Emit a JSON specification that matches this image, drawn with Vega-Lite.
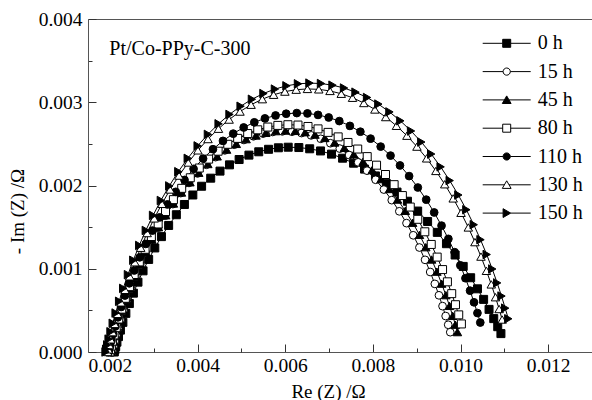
{
  "$schema": "https://vega.github.io/schema/vega-lite/v6.json",
  "width": 504,
  "height": 333,
  "autosize": {"type": "none"},
  "padding": {"left": 88, "top": 19, "right": 0, "bottom": 48},
  "background": "white",
  "config": {"view": {"stroke": null}, "font": "Liberation Serif"},
  "data": {"values": [
    {"t":"0 h","re":0.0021,"im":0},{"t":"0 h","re":0.002112,"im":0.0000248},{"t":"0 h","re":0.002132,"im":0.0000645},{"t":"0 h","re":0.00216,"im":0.000118},{"t":"0 h","re":0.002196,"im":0.000185},{"t":"0 h","re":0.00224,"im":0.000263},{"t":"0 h","re":0.002296,"im":0.000356},{"t":"0 h","re":0.002364,"im":0.000464},{"t":"0 h","re":0.002444,"im":0.000582},{"t":"0 h","re":0.002536,"im":0.000707},{"t":"0 h","re":0.00264,"im":0.000839},{"t":"0 h","re":0.002756,"im":0.000975},{"t":"0 h","re":0.002884,"im":0.001112},{"t":"0 h","re":0.003024,"im":0.00125},{"t":"0 h","re":0.003176,"im":0.001386},{"t":"0 h","re":0.00334,"im":0.00152},{"t":"0 h","re":0.003516,"im":0.001649},{"t":"0 h","re":0.0037,"im":0.001772},{"t":"0 h","re":0.003892,"im":0.001886},{"t":"0 h","re":0.004092,"im":0.001991},{"t":"0 h","re":0.0043,"im":0.002088},{"t":"0 h","re":0.004512,"im":0.002173},{"t":"0 h","re":0.004728,"im":0.002248},{"t":"0 h","re":0.004948,"im":0.002312},{"t":"0 h","re":0.005172,"im":0.002365},{"t":"0 h","re":0.005396,"im":0.002405},{"t":"0 h","re":0.00562,"im":0.002435},{"t":"0 h","re":0.005844,"im":0.002453},{"t":"0 h","re":0.006068,"im":0.00246},{"t":"0 h","re":0.006311,"im":0.002456},{"t":"0 h","re":0.006558,"im":0.002441},{"t":"0 h","re":0.006806,"im":0.002415},{"t":"0 h","re":0.007056,"im":0.002377},{"t":"0 h","re":0.007309,"im":0.002328},{"t":"0 h","re":0.00756,"im":0.002268},{"t":"0 h","re":0.00781,"im":0.002197},{"t":"0 h","re":0.008059,"im":0.002115},{"t":"0 h","re":0.008307,"im":0.002022},{"t":"0 h","re":0.008551,"im":0.001921},{"t":"0 h","re":0.008789,"im":0.001811},{"t":"0 h","re":0.009022,"im":0.001693},{"t":"0 h","re":0.009249,"im":0.001568},{"t":"0 h","re":0.00947,"im":0.001437},{"t":"0 h","re":0.009679,"im":0.001301},{"t":"0 h","re":0.009877,"im":0.001165},{"t":"0 h","re":0.010061,"im":0.001028},{"t":"0 h","re":0.010231,"im":0.000892},{"t":"0 h","re":0.010387,"im":0.000759},{"t":"0 h","re":0.010527,"im":0.000632},{"t":"0 h","re":0.010651,"im":0.000512},{"t":"0 h","re":0.010758,"im":0.000401},{"t":"0 h","re":0.010849,"im":0.000304},{"t":"0 h","re":0.010922,"im":0.000221},
    {"t":"15 h","re":0.00205,"im":0},{"t":"15 h","re":0.002062,"im":0.0000268},{"t":"15 h","re":0.002081,"im":0.0000694},{"t":"15 h","re":0.002109,"im":0.000127},{"t":"15 h","re":0.002144,"im":0.000199},{"t":"15 h","re":0.002187,"im":0.000283},{"t":"15 h","re":0.002242,"im":0.000384},{"t":"15 h","re":0.002308,"im":0.0005},{"t":"15 h","re":0.002387,"im":0.000626},{"t":"15 h","re":0.002477,"im":0.000762},{"t":"15 h","re":0.002579,"im":0.000904},{"t":"15 h","re":0.002692,"im":0.00105},{"t":"15 h","re":0.002817,"im":0.001198},{"t":"15 h","re":0.002954,"im":0.001346},{"t":"15 h","re":0.003103,"im":0.001493},{"t":"15 h","re":0.003264,"im":0.001637},{"t":"15 h","re":0.003436,"im":0.001777},{"t":"15 h","re":0.003616,"im":0.001909},{"t":"15 h","re":0.003804,"im":0.002031},{"t":"15 h","re":0.004,"im":0.002145},{"t":"15 h","re":0.004203,"im":0.002249},{"t":"15 h","re":0.004411,"im":0.002341},{"t":"15 h","re":0.004622,"im":0.002422},{"t":"15 h","re":0.004837,"im":0.00249},{"t":"15 h","re":0.005057,"im":0.002547},{"t":"15 h","re":0.005276,"im":0.002591},{"t":"15 h","re":0.005495,"im":0.002623},{"t":"15 h","re":0.005714,"im":0.002643},{"t":"15 h","re":0.005934,"im":0.00265},{"t":"15 h","re":0.006153,"im":0.002646},{"t":"15 h","re":0.006372,"im":0.00263},{"t":"15 h","re":0.006591,"im":0.002602},{"t":"15 h","re":0.006811,"im":0.002561},{"t":"15 h","re":0.00703,"im":0.002508},{"t":"15 h","re":0.007245,"im":0.002443},{"t":"15 h","re":0.007457,"im":0.002366},{"t":"15 h","re":0.007664,"im":0.002278},{"t":"15 h","re":0.007868,"im":0.002178},{"t":"15 h","re":0.008063,"im":0.002069},{"t":"15 h","re":0.008251,"im":0.001951},{"t":"15 h","re":0.008431,"im":0.001824},{"t":"15 h","re":0.008604,"im":0.00169},{"t":"15 h","re":0.008768,"im":0.001548},{"t":"15 h","re":0.008921,"im":0.001402},{"t":"15 h","re":0.009062,"im":0.001255},{"t":"15 h","re":0.009191,"im":0.001107},{"t":"15 h","re":0.009308,"im":0.000961},{"t":"15 h","re":0.009414,"im":0.000818},{"t":"15 h","re":0.009508,"im":0.000681},{"t":"15 h","re":0.00959,"im":0.000551},{"t":"15 h","re":0.009661,"im":0.000432},{"t":"15 h","re":0.009719,"im":0.000327},{"t":"15 h","re":0.009766,"im":0.000238},
    {"t":"45 h","re":0.00203,"im":0},{"t":"45 h","re":0.002042,"im":0.0000269},{"t":"45 h","re":0.002062,"im":0.0000697},{"t":"45 h","re":0.00209,"im":0.000128},{"t":"45 h","re":0.002126,"im":0.0002},{"t":"45 h","re":0.00217,"im":0.000284},{"t":"45 h","re":0.002226,"im":0.000385},{"t":"45 h","re":0.002295,"im":0.000501},{"t":"45 h","re":0.002375,"im":0.000629},{"t":"45 h","re":0.002467,"im":0.000765},{"t":"45 h","re":0.002571,"im":0.000907},{"t":"45 h","re":0.002687,"im":0.001054},{"t":"45 h","re":0.002816,"im":0.001203},{"t":"45 h","re":0.002956,"im":0.001351},{"t":"45 h","re":0.003108,"im":0.001499},{"t":"45 h","re":0.003272,"im":0.001643},{"t":"45 h","re":0.003449,"im":0.001784},{"t":"45 h","re":0.003633,"im":0.001916},{"t":"45 h","re":0.003826,"im":0.002039},{"t":"45 h","re":0.004026,"im":0.002153},{"t":"45 h","re":0.004234,"im":0.002258},{"t":"45 h","re":0.004447,"im":0.00235},{"t":"45 h","re":0.004663,"im":0.002431},{"t":"45 h","re":0.004884,"im":0.0025},{"t":"45 h","re":0.005108,"im":0.002557},{"t":"45 h","re":0.005333,"im":0.002601},{"t":"45 h","re":0.005557,"im":0.002633},{"t":"45 h","re":0.005781,"im":0.002653},{"t":"45 h","re":0.006006,"im":0.00266},{"t":"45 h","re":0.00623,"im":0.002656},{"t":"45 h","re":0.006455,"im":0.00264},{"t":"45 h","re":0.006679,"im":0.002611},{"t":"45 h","re":0.006904,"im":0.002571},{"t":"45 h","re":0.007128,"im":0.002517},{"t":"45 h","re":0.007349,"im":0.002452},{"t":"45 h","re":0.007565,"im":0.002375},{"t":"45 h","re":0.007777,"im":0.002287},{"t":"45 h","re":0.007986,"im":0.002187},{"t":"45 h","re":0.008186,"im":0.002077},{"t":"45 h","re":0.008379,"im":0.001958},{"t":"45 h","re":0.008563,"im":0.001831},{"t":"45 h","re":0.008739,"im":0.001696},{"t":"45 h","re":0.008908,"im":0.001553},{"t":"45 h","re":0.009064,"im":0.001407},{"t":"45 h","re":0.009208,"im":0.001259},{"t":"45 h","re":0.009341,"im":0.001111},{"t":"45 h","re":0.009461,"im":0.000965},{"t":"45 h","re":0.009569,"im":0.000821},{"t":"45 h","re":0.009665,"im":0.000683},{"t":"45 h","re":0.009749,"im":0.000554},{"t":"45 h","re":0.009822,"im":0.000434},{"t":"45 h","re":0.009882,"im":0.000328},{"t":"45 h","re":0.00993,"im":0.000239},
    {"t":"80 h","re":0.002,"im":0},{"t":"80 h","re":0.002012,"im":0.0000276},{"t":"80 h","re":0.002033,"im":0.0000715},{"t":"80 h","re":0.002061,"im":0.000131},{"t":"80 h","re":0.002098,"im":0.000205},{"t":"80 h","re":0.002143,"im":0.000292},{"t":"80 h","re":0.002201,"im":0.000396},{"t":"80 h","re":0.00227,"im":0.000515},{"t":"80 h","re":0.002352,"im":0.000645},{"t":"80 h","re":0.002446,"im":0.000785},{"t":"80 h","re":0.002553,"im":0.000931},{"t":"80 h","re":0.002671,"im":0.001082},{"t":"80 h","re":0.002802,"im":0.001234},{"t":"80 h","re":0.002946,"im":0.001387},{"t":"80 h","re":0.003101,"im":0.001538},{"t":"80 h","re":0.003269,"im":0.001687},{"t":"80 h","re":0.003449,"im":0.00183},{"t":"80 h","re":0.003638,"im":0.001966},{"t":"80 h","re":0.003834,"im":0.002093},{"t":"80 h","re":0.004039,"im":0.00221},{"t":"80 h","re":0.004252,"im":0.002317},{"t":"80 h","re":0.004469,"im":0.002412},{"t":"80 h","re":0.00469,"im":0.002495},{"t":"80 h","re":0.004915,"im":0.002566},{"t":"80 h","re":0.005144,"im":0.002624},{"t":"80 h","re":0.005373,"im":0.002669},{"t":"80 h","re":0.005603,"im":0.002702},{"t":"80 h","re":0.005832,"im":0.002722},{"t":"80 h","re":0.006061,"im":0.00273},{"t":"80 h","re":0.006291,"im":0.002726},{"t":"80 h","re":0.00652,"im":0.002709},{"t":"80 h","re":0.006749,"im":0.00268},{"t":"80 h","re":0.006978,"im":0.002638},{"t":"80 h","re":0.007208,"im":0.002584},{"t":"80 h","re":0.007433,"im":0.002517},{"t":"80 h","re":0.007654,"im":0.002438},{"t":"80 h","re":0.007871,"im":0.002347},{"t":"80 h","re":0.008084,"im":0.002244},{"t":"80 h","re":0.008288,"im":0.002132},{"t":"80 h","re":0.008485,"im":0.00201},{"t":"80 h","re":0.008673,"im":0.001879},{"t":"80 h","re":0.008853,"im":0.001741},{"t":"80 h","re":0.009025,"im":0.001594},{"t":"80 h","re":0.009185,"im":0.001444},{"t":"80 h","re":0.009332,"im":0.001292},{"t":"80 h","re":0.009467,"im":0.00114},{"t":"80 h","re":0.00959,"im":0.00099},{"t":"80 h","re":0.009701,"im":0.000843},{"t":"80 h","re":0.009799,"im":0.000701},{"t":"80 h","re":0.009885,"im":0.000568},{"t":"80 h","re":0.009959,"im":0.000446},{"t":"80 h","re":0.01002,"im":0.000337},
    {"t":"110 h","re":0.00197,"im":0},{"t":"110 h","re":0.001983,"im":0.000029},{"t":"110 h","re":0.002005,"im":0.0000752},{"t":"110 h","re":0.002035,"im":0.000138},{"t":"110 h","re":0.002074,"im":0.000216},{"t":"110 h","re":0.002122,"im":0.000307},{"t":"110 h","re":0.002182,"im":0.000416},{"t":"110 h","re":0.002256,"im":0.000541},{"t":"110 h","re":0.002342,"im":0.000678},{"t":"110 h","re":0.002442,"im":0.000825},{"t":"110 h","re":0.002554,"im":0.000979},{"t":"110 h","re":0.00268,"im":0.001137},{"t":"110 h","re":0.002818,"im":0.001298},{"t":"110 h","re":0.00297,"im":0.001458},{"t":"110 h","re":0.003135,"im":0.001617},{"t":"110 h","re":0.003312,"im":0.001773},{"t":"110 h","re":0.003502,"im":0.001924},{"t":"110 h","re":0.003702,"im":0.002067},{"t":"110 h","re":0.003909,"im":0.0022},{"t":"110 h","re":0.004126,"im":0.002323},{"t":"110 h","re":0.004351,"im":0.002436},{"t":"110 h","re":0.00458,"im":0.002536},{"t":"110 h","re":0.004814,"im":0.002623},{"t":"110 h","re":0.005052,"im":0.002697},{"t":"110 h","re":0.005295,"im":0.002759},{"t":"110 h","re":0.005537,"im":0.002806},{"t":"110 h","re":0.00578,"im":0.002841},{"t":"110 h","re":0.006022,"im":0.002862},{"t":"110 h","re":0.006264,"im":0.00287},{"t":"110 h","re":0.006507,"im":0.002866},{"t":"110 h","re":0.006749,"im":0.002848},{"t":"110 h","re":0.006992,"im":0.002817},{"t":"110 h","re":0.007234,"im":0.002774},{"t":"110 h","re":0.007476,"im":0.002716},{"t":"110 h","re":0.007715,"im":0.002646},{"t":"110 h","re":0.007948,"im":0.002563},{"t":"110 h","re":0.008178,"im":0.002467},{"t":"110 h","re":0.008403,"im":0.002359},{"t":"110 h","re":0.008619,"im":0.002241},{"t":"110 h","re":0.008827,"im":0.002113},{"t":"110 h","re":0.009026,"im":0.001976},{"t":"110 h","re":0.009217,"im":0.00183},{"t":"110 h","re":0.009399,"im":0.001676},{"t":"110 h","re":0.009567,"im":0.001518},{"t":"110 h","re":0.009723,"im":0.001359},{"t":"110 h","re":0.009866,"im":0.001199},{"t":"110 h","re":0.009996,"im":0.001041},{"t":"110 h","re":0.010113,"im":0.000886},{"t":"110 h","re":0.010217,"im":0.000737},{"t":"110 h","re":0.010308,"im":0.000597},{"t":"110 h","re":0.010386,"im":0.000468},{"t":"110 h","re":0.010451,"im":0.000354},
    {"t":"130 h","re":0.00195,"im":0},{"t":"130 h","re":0.001964,"im":0.0000319},{"t":"130 h","re":0.001987,"im":0.0000828},{"t":"130 h","re":0.002019,"im":0.000152},{"t":"130 h","re":0.00206,"im":0.000238},{"t":"130 h","re":0.002111,"im":0.000337},{"t":"130 h","re":0.002175,"im":0.000458},{"t":"130 h","re":0.002253,"im":0.000596},{"t":"130 h","re":0.002345,"im":0.000747},{"t":"130 h","re":0.002451,"im":0.000909},{"t":"130 h","re":0.00257,"im":0.001078},{"t":"130 h","re":0.002703,"im":0.001252},{"t":"130 h","re":0.00285,"im":0.001429},{"t":"130 h","re":0.003011,"im":0.001605},{"t":"130 h","re":0.003186,"im":0.00178},{"t":"130 h","re":0.003374,"im":0.001952},{"t":"130 h","re":0.003576,"im":0.002119},{"t":"130 h","re":0.003788,"im":0.002276},{"t":"130 h","re":0.004008,"im":0.002422},{"t":"130 h","re":0.004238,"im":0.002558},{"t":"130 h","re":0.004477,"im":0.002682},{"t":"130 h","re":0.00472,"im":0.002792},{"t":"130 h","re":0.004968,"im":0.002888},{"t":"130 h","re":0.005221,"im":0.00297},{"t":"130 h","re":0.005478,"im":0.003037},{"t":"130 h","re":0.005735,"im":0.00309},{"t":"130 h","re":0.005993,"im":0.003128},{"t":"130 h","re":0.00625,"im":0.003151},{"t":"130 h","re":0.006507,"im":0.00316},{"t":"130 h","re":0.006765,"im":0.003155},{"t":"130 h","re":0.007022,"im":0.003136},{"t":"130 h","re":0.007279,"im":0.003102},{"t":"130 h","re":0.007536,"im":0.003054},{"t":"130 h","re":0.007794,"im":0.002991},{"t":"130 h","re":0.008046,"im":0.002913},{"t":"130 h","re":0.008294,"im":0.002822},{"t":"130 h","re":0.008538,"im":0.002717},{"t":"130 h","re":0.008777,"im":0.002598},{"t":"130 h","re":0.009006,"im":0.002467},{"t":"130 h","re":0.009227,"im":0.002326},{"t":"130 h","re":0.009438,"im":0.002175},{"t":"130 h","re":0.00964,"im":0.002015},{"t":"130 h","re":0.009833,"im":0.001845},{"t":"130 h","re":0.010012,"im":0.001672},{"t":"130 h","re":0.010178,"im":0.001496},{"t":"130 h","re":0.010329,"im":0.00132},{"t":"130 h","re":0.010467,"im":0.001146},{"t":"130 h","re":0.010591,"im":0.000975},{"t":"130 h","re":0.010702,"im":0.000812},{"t":"130 h","re":0.010798,"im":0.000658},{"t":"130 h","re":0.010881,"im":0.000516},{"t":"130 h","re":0.01095,"im":0.00039},
    {"t":"150 h","re":0.0019,"im":0},{"t":"150 h","re":0.001914,"im":0.0000326},{"t":"150 h","re":0.001938,"im":0.0000846},{"t":"150 h","re":0.00197,"im":0.000155},{"t":"150 h","re":0.002013,"im":0.000243},{"t":"150 h","re":0.002064,"im":0.000345},{"t":"150 h","re":0.00213,"im":0.000468},{"t":"150 h","re":0.00221,"im":0.000609},{"t":"150 h","re":0.002303,"im":0.000764},{"t":"150 h","re":0.002411,"im":0.000929},{"t":"150 h","re":0.002533,"im":0.001102},{"t":"150 h","re":0.002669,"im":0.00128},{"t":"150 h","re":0.002819,"im":0.00146},{"t":"150 h","re":0.002984,"im":0.001641},{"t":"150 h","re":0.003162,"im":0.00182},{"t":"150 h","re":0.003354,"im":0.001995},{"t":"150 h","re":0.003561,"im":0.002166},{"t":"150 h","re":0.003776,"im":0.002326},{"t":"150 h","re":0.004002,"im":0.002476},{"t":"150 h","re":0.004236,"im":0.002614},{"t":"150 h","re":0.00448,"im":0.002741},{"t":"150 h","re":0.004729,"im":0.002854},{"t":"150 h","re":0.004982,"im":0.002952},{"t":"150 h","re":0.00524,"im":0.003036},{"t":"150 h","re":0.005503,"im":0.003105},{"t":"150 h","re":0.005765,"im":0.003158},{"t":"150 h","re":0.006028,"im":0.003197},{"t":"150 h","re":0.006291,"im":0.003221},{"t":"150 h","re":0.006553,"im":0.00323},{"t":"150 h","re":0.006816,"im":0.003225},{"t":"150 h","re":0.007079,"im":0.003205},{"t":"150 h","re":0.007342,"im":0.003171},{"t":"150 h","re":0.007604,"im":0.003121},{"t":"150 h","re":0.007867,"im":0.003057},{"t":"150 h","re":0.008125,"im":0.002978},{"t":"150 h","re":0.008378,"im":0.002884},{"t":"150 h","re":0.008627,"im":0.002777},{"t":"150 h","re":0.008871,"im":0.002655},{"t":"150 h","re":0.009105,"im":0.002522},{"t":"150 h","re":0.009331,"im":0.002378},{"t":"150 h","re":0.009546,"im":0.002224},{"t":"150 h","re":0.009753,"im":0.002059},{"t":"150 h","re":0.00995,"im":0.001886},{"t":"150 h","re":0.010133,"im":0.001709},{"t":"150 h","re":0.010302,"im":0.001529},{"t":"150 h","re":0.010456,"im":0.001349},{"t":"150 h","re":0.010597,"im":0.001171},{"t":"150 h","re":0.010724,"im":0.000997},{"t":"150 h","re":0.010836,"im":0.00083},{"t":"150 h","re":0.010935,"im":0.000672},{"t":"150 h","re":0.011019,"im":0.000527},{"t":"150 h","re":0.01109,"im":0.000399}
  ]},
  "layer": [
    {
      "mark": {"type": "line", "color": "black", "strokeWidth": 1},
      "encoding": {
        "x": {"field": "re", "type": "quantitative", "scale": {"domain": [0.0015, 0.013], "nice": false, "zero": false},
              "axis": {"orient": "top", "ticks": false, "labels": false, "title": null, "domain": true, "domainColor": "#555", "domainWidth": 1, "grid": false}},
        "y": {"field": "im", "type": "quantitative", "scale": {"domain": [0, 0.004], "nice": false, "zero": false},
              "axis": {"orient": "left", "values": [0.0005, 0.0015, 0.0025, 0.0035], "tickSize": -4, "tickColor": "#333", "labels": false, "domain": false, "title": null, "grid": false}},
        "detail": {"field": "t", "type": "nominal"}
      }
    },
    {
      "transform": [{"filter": "datum.t == '0 h'"}],
      "mark": {"type": "point", "shape": "square", "filled": true, "fill": "black", "stroke": "black", "strokeWidth": 1, "size": 64, "opacity": 1},
      "encoding": {
        "x": {"field": "re", "type": "quantitative", "scale": {"domain": [0.0015, 0.013], "nice": false, "zero": false},
              "axis": {"orient": "bottom", "values": [0.002, 0.004, 0.006, 0.008, 0.01, 0.012], "format": ".3f", "tickSize": -8, "tickColor": "#333", "domainColor": "#555", "grid": false,
                       "labelPadding": 12, "labelFont": "Liberation Serif", "labelFontSize": 19.5, "labelColor": "black", "labelFlush": false, "labelOverlap": false,
                       "title": "Re (Z) /Ω", "titleFont": "Liberation Serif", "titleFontSize": 19, "titleFontWeight": "normal", "titleColor": "black", "titleX": 240, "titleY": 45, "titleBaseline": "alphabetic", "titleAlign": "center"}},
        "y": {"field": "im", "type": "quantitative", "scale": {"domain": [0, 0.004], "nice": false, "zero": false},
              "axis": {"orient": "left", "values": [0, 0.001, 0.002, 0.003, 0.004], "format": ".3f", "tickSize": -8, "tickColor": "#333", "domainColor": "#555", "grid": false,
                       "labelPadding": 14, "labelFont": "Liberation Serif", "labelFontSize": 19.5, "labelColor": "black", "labelFlush": false, "labelOverlap": false,
                       "title": "- Im (Z) /Ω", "titleFont": "Liberation Serif", "titleFontSize": 19, "titleFontWeight": "normal", "titleColor": "black", "titleX": -65, "titleY": 192, "titleAngle": -90, "titleBaseline": "alphabetic", "titleAlign": "center"}}
      }
    },
    {
      "transform": [{"filter": "datum.t == '15 h'"}],
      "mark": {"type": "point", "shape": "circle", "filled": true, "fill": "white", "stroke": "black", "strokeWidth": 1, "size": 60, "opacity": 1},
      "encoding": {
        "x": {"field": "re", "type": "quantitative", "scale": {"domain": [0.0015, 0.013], "nice": false, "zero": false}, "axis": null},
        "y": {"field": "im", "type": "quantitative", "scale": {"domain": [0, 0.004], "nice": false, "zero": false}, "axis": null}
      }
    },
    {
      "transform": [{"filter": "datum.t == '45 h'"}],
      "mark": {"type": "point", "shape": "triangle-up", "filled": true, "fill": "black", "stroke": "black", "strokeWidth": 1, "size": 72, "opacity": 1},
      "encoding": {
        "x": {"field": "re", "type": "quantitative", "scale": {"domain": [0.0015, 0.013], "nice": false, "zero": false}, "axis": null},
        "y": {"field": "im", "type": "quantitative", "scale": {"domain": [0, 0.004], "nice": false, "zero": false}, "axis": null}
      }
    },
    {
      "transform": [{"filter": "datum.t == '80 h'"}],
      "mark": {"type": "point", "shape": "square", "filled": true, "fill": "white", "stroke": "black", "strokeWidth": 1, "size": 64, "opacity": 1},
      "encoding": {
        "x": {"field": "re", "type": "quantitative", "scale": {"domain": [0.0015, 0.013], "nice": false, "zero": false}, "axis": null},
        "y": {"field": "im", "type": "quantitative", "scale": {"domain": [0, 0.004], "nice": false, "zero": false}, "axis": null}
      }
    },
    {
      "transform": [{"filter": "datum.t == '110 h'"}],
      "mark": {"type": "point", "shape": "circle", "filled": true, "fill": "black", "stroke": "black", "strokeWidth": 1, "size": 60, "opacity": 1},
      "encoding": {
        "x": {"field": "re", "type": "quantitative", "scale": {"domain": [0.0015, 0.013], "nice": false, "zero": false}, "axis": null},
        "y": {"field": "im", "type": "quantitative", "scale": {"domain": [0, 0.004], "nice": false, "zero": false}, "axis": null}
      }
    },
    {
      "transform": [{"filter": "datum.t == '130 h'"}],
      "mark": {"type": "point", "shape": "triangle-up", "filled": true, "fill": "white", "stroke": "black", "strokeWidth": 1, "size": 72, "opacity": 1},
      "encoding": {
        "x": {"field": "re", "type": "quantitative", "scale": {"domain": [0.0015, 0.013], "nice": false, "zero": false}, "axis": null},
        "y": {"field": "im", "type": "quantitative", "scale": {"domain": [0, 0.004], "nice": false, "zero": false}, "axis": null}
      }
    },
    {
      "transform": [{"filter": "datum.t == '150 h'"}],
      "mark": {"type": "point", "shape": "triangle-right", "filled": true, "fill": "black", "stroke": "black", "strokeWidth": 1, "size": 72, "opacity": 1},
      "encoding": {
        "x": {"field": "re", "type": "quantitative", "scale": {"domain": [0.0015, 0.013], "nice": false, "zero": false}, "axis": null},
        "y": {"field": "im", "type": "quantitative", "scale": {"domain": [0, 0.004], "nice": false, "zero": false}, "axis": null}
      }
    },
    {
      "data": {"values": [{"label": "Pt/Co-PPy-C-300"}]},
      "mark": {"type": "text", "align": "left", "baseline": "middle", "font": "Liberation Serif", "fontSize": 20, "color": "black"},
      "encoding": {
        "x": {"datum": 0.001986, "type": "quantitative", "scale": {"domain": [0.0015, 0.013], "nice": false, "zero": false}, "axis": null},
        "y": {"datum": 0.00364, "type": "quantitative", "scale": {"domain": [0, 0.004], "nice": false, "zero": false}, "axis": null},
        "text": {"field": "label", "type": "nominal"}
      }
    },
    {
      "transform": [{"filter": "false"}],
      "mark": {"type": "point", "filled": true, "stroke": "black", "strokeWidth": 1, "size": 64},
      "encoding": {
        "x": {"field": "re", "type": "quantitative", "scale": {"domain": [0.0015, 0.013], "nice": false, "zero": false},
              "axis": {"orient": "bottom", "values": [0.003, 0.005, 0.007, 0.009, 0.011], "tickSize": -4, "tickColor": "#333", "labels": false, "domain": false, "title": null, "grid": false}},
        "y": {"field": "im", "type": "quantitative", "scale": {"domain": [0, 0.004], "nice": false, "zero": false}, "axis": null},
        "shape": {"field": "t", "type": "nominal",
                  "scale": {"domain": ["0 h", "15 h", "45 h", "80 h", "110 h", "130 h", "150 h"],
                            "range": ["M-6,0L-1,0M1,0L6,0M-1,-1L1,-1L1,1L-1,1Z",
                                      "M-6,0L-0.9,0M0.9,0L6,0M-0.9,0C-0.9,-0.5,-0.5,-0.9,0,-0.9C0.5,-0.9,0.9,-0.5,0.9,0C0.9,0.5,0.5,0.9,0,0.9C-0.5,0.9,-0.9,0.5,-0.9,0Z",
                                      "M-6,0L-0.58,0M0.58,0L6,0M-1.1,0.9L0,-1L1.1,0.9Z",
                                      "M-6,0L-1,0M1,0L6,0M-1,-1L1,-1L1,1L-1,1Z",
                                      "M-6,0L-0.9,0M0.9,0L6,0M-0.9,0C-0.9,-0.5,-0.5,-0.9,0,-0.9C0.5,-0.9,0.9,-0.5,0.9,0C0.9,0.5,0.5,0.9,0,0.9C-0.5,0.9,-0.9,0.5,-0.9,0Z",
                                      "M-6,0L-0.58,0M0.58,0L6,0M-1.1,0.9L0,-1L1.1,0.9Z",
                                      "M-6,0L-0.9,0M1,0L6,0M-0.9,-1.1L1,0L-0.9,1.1Z"]},
                  "legend": {"title": null, "orient": "none", "legendX": 384.7, "legendY": 14.3, "direction": "vertical", "padding": 0, "symbolSize": 64, "symbolStrokeWidth": 1, "symbolStrokeColor": "black", "symbolOpacity": 1, "symbolOffset": 24, "labelOffset": 21, "labelFont": "Liberation Serif", "labelFontSize": 20, "labelColor": "black", "rowPadding": 8.3, "labelLimit": 0,
                             "encode": {"symbols": {"update": {"stroke": {"value": "black"}, "strokeWidth": {"value": 1}, "opacity": {"value": 1}}}}}},
        "fill": {"field": "t", "type": "nominal",
                 "scale": {"domain": ["0 h", "15 h", "45 h", "80 h", "110 h", "130 h", "150 h"], "range": ["black", "white", "black", "white", "black", "white", "black"]},
                 "legend": {"title": null, "orient": "none", "legendX": 384.7, "legendY": 14.3, "direction": "vertical", "padding": 0, "symbolSize": 64, "symbolStrokeWidth": 1, "symbolStrokeColor": "black", "symbolOpacity": 1, "symbolOffset": 24, "labelOffset": 21, "labelFont": "Liberation Serif", "labelFontSize": 20, "labelColor": "black", "rowPadding": 8.3, "labelLimit": 0,
                            "encode": {"symbols": {"update": {"stroke": {"value": "black"}, "strokeWidth": {"value": 1}, "opacity": {"value": 1}}}}}}
      }
    }
  ],
  "resolve": {"axis": {"x": "independent", "y": "independent"}}
}
